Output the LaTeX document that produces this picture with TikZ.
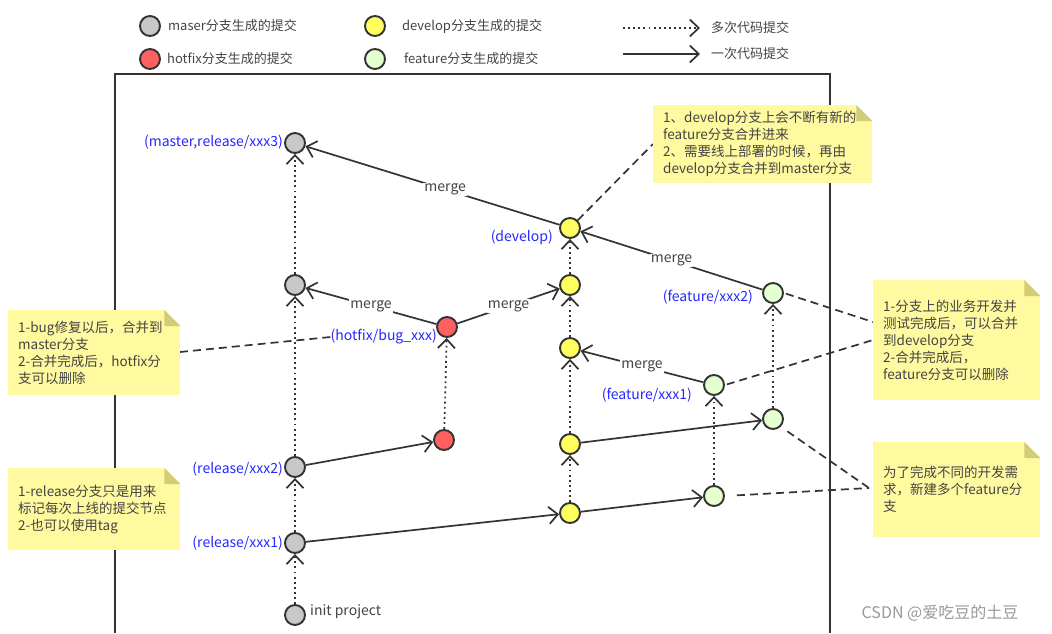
\documentclass[tikz,border=0pt]{standalone}
\usepackage{fontspec}
\setmainfont{Noto Sans CJK SC}
\usetikzlibrary{arrows.meta, calc, positioning}

\definecolor{masterGray}{RGB}{200,200,200}
\definecolor{hotfixRed}{RGB}{255,96,96}
\definecolor{developYellow}{RGB}{255,255,96}
\definecolor{featureGreen}{RGB}{228,255,208}
\definecolor{lineDark}{RGB}{51,51,51}
\definecolor{labelBlue}{RGB}{40,40,255}
\definecolor{noteYellow}{RGB}{255,250,160}
\definecolor{noteFold}{RGB}{208,204,120}
\definecolor{textGray}{RGB}{68,68,68}

\tikzset{
  commit/.style={circle, draw=lineDark, line width=1.9pt, minimum size=20pt, inner sep=0pt},
  mastercommit/.style={commit, fill=masterGray},
  hotfixcommit/.style={commit, fill=hotfixRed},
  developcommit/.style={commit, fill=developYellow},
  featurecommit/.style={commit, fill=featureGreen},
  once/.style={draw=lineDark, line width=1.7pt, -{Straight Barb[length=9pt,width=17pt]}},
  many/.style={once, dash pattern=on 1.9pt off 3.2pt},
  mergelbl/.style={fill=white, inner sep=1pt, text=textGray, font=\fontsize{14}{16}\selectfont},
  branchlbl/.style={text=labelBlue, inner sep=0pt, font=\fontsize{14}{16}\selectfont},
  legtext/.style={text=textGray, inner sep=0pt, anchor=west, font=\fontsize{13}{15}\selectfont},
  note/.style={rectangle, fill=noteYellow, inner xsep=10pt, inner ysep=0pt, align=left,
    anchor=north west, text=textGray, font=\fontsize{13.5}{17}\selectfont},
  notelink/.style={draw=lineDark, line width=1.7pt, dash pattern=on 8pt off 5pt},
}

%% folded corner of a note
\newcommand\notefold[1]{%
  \fill[white] ([xshift=-16pt]#1.north east) -- (#1.north east) -- ([yshift=-16pt]#1.north east) -- cycle;
  \fill[noteFold] ([xshift=-16pt]#1.north east) -- ([yshift=-16pt]#1.north east)
    -- ([xshift=-16pt,yshift=-16pt]#1.north east) -- cycle;}

\begin{document}
\begin{tikzpicture}[x=1pt, y=-1pt]

%%Paramaters
%% column of each branch, can be modified
\def\masterPos{295}
\def\hotfixPos{447}
\def\developPos{570}
\def\featAPos{714}
\def\featBPos{773}

\useasboundingbox (0,0) rectangle (1052,633);
\fill[white] (0,0) rectangle (1052,633);

    %% legend
    \node[mastercommit] (legMaster) at (150,26) {};
    \node[legtext, right=7pt of legMaster] (legMasterTxt) {maser分支生成的提交};
    \node[hotfixcommit] (legHotfix) at (150,59) {};
    \node[legtext, right=6pt of legHotfix] (legHotfixTxt) {hotfix分支生成的提交};
    \node[developcommit] (legDevelop) at (375,26) {};
    \node[legtext, right=16pt of legDevelop] (legDevelopTxt) {develop分支生成的提交};
    \node[featurecommit] (legFeature) at (375,59) {};
    \node[legtext, right=18pt of legFeature] (legFeatureTxt) {feature分支生成的提交};

    \coordinate (legManyA) at (623,28);
    \coordinate (legManyB) at (700,28);
    \draw[many] (legManyA) -- (legManyB);
    \node[legtext, right=11pt of legManyB] (legManyTxt) {多次代码提交};
    \coordinate (legOnceA) at (623,54);
    \coordinate (legOnceB) at (700,54);
    \draw[once] (legOnceA) -- (legOnceB);
    \node[legtext, right=11pt of legOnceB] (legOnceTxt) {一次代码提交};

    %% frame
    \draw[draw=lineDark, line width=1.9pt] (115,633) |- (830,74) -- (830,633);

    %% master
    \node[mastercommit] (m0) at (\masterPos, 615) {};
    \node[mastercommit] (m1) at (\masterPos, 543) {};
    \node[mastercommit] (m2) at (\masterPos, 467) {};
    \node[mastercommit] (m3) at (\masterPos, 285) {};
    \node[mastercommit] (m4) at (\masterPos, 143) {};

    %% hotfix
    \node[hotfixcommit] (h1) at (444, 440) {};
    \node[hotfixcommit] (h2) at (\hotfixPos, 327) {};

    %% develop
    \node[developcommit] (d1) at (\developPos, 513) {};
    \node[developcommit] (d2) at (\developPos, 444) {};
    \node[developcommit] (d3) at (\developPos, 348) {};
    \node[developcommit] (d4) at (\developPos, 285) {};
    \node[developcommit] (d5) at (\developPos, 228) {};

    %% features
    \node[featurecommit] (fa1) at (\featAPos, 496) {};
    \node[featurecommit] (fa2) at (\featAPos, 385) {};
    \node[featurecommit] (fb1) at (\featBPos, 419) {};
    \node[featurecommit] (fb2) at (\featBPos, 293) {};

    %% branch labels
    \node[branchlbl, anchor=east] (m4Lbl) at ($(m4.west) + (-1, -1)$) {(master,release/xxx3)};
    \node[branchlbl, anchor=east] (m2Lbl) at ($(m2.west) + (-1, 2)$) {(release/xxx2)};
    \node[branchlbl, anchor=east] (m1Lbl) at ($(m1.west) + (-1, 0)$) {(release/xxx1)};
    \node[text=textGray, inner sep=0pt, anchor=west, font=\fontsize{14}{16}\selectfont] (m0Lbl) at ($(m0.east) + (4, -3)$) {init project};
    \node[branchlbl, anchor=east] (h2Lbl) at ($(h2.west) + (1, 10)$) {(hotfix/bug\_xxx)};
    \node[branchlbl, anchor=east] (d5Lbl) at ($(d5.west) + (-6, 9)$) {(develop)};
    \node[branchlbl, anchor=east] (fa2Lbl) at ($(fa2.west) + (-11, 10)$) {(feature/xxx1)};
    \node[branchlbl, anchor=east] (fb2Lbl) at ($(fb2.west) + (-9, 4)$) {(feature/xxx2)};

    %% many commits
    \draw[many] (m0) -- (m1);
    \draw[many] (m1) -- (m2);
    \draw[many] (m2) -- (m3);
    \draw[many] (m3) -- (m4);
    \draw[many] (h1) -- (h2);
    \draw[many] (d1) -- (d2);
    \draw[many] (d2) -- (d3);
    \draw[many] (d3) -- (d4);
    \draw[many] (d4) -- (d5);
    \draw[many] (fa1) -- (fa2);
    \draw[many] (fb1) -- (fb2);

    %% branching
    \draw[once] (m1) -- (d1);
    \draw[once] (m2) -- (h1);
    \draw[once] (d1) -- (fa1);
    \draw[once] (d2) -- (fb1);

    %% merging
    \draw[once] (h2) -- node[mergelbl] (mergeHM) {merge} (m3);
    \draw[once] (h2) -- node[mergelbl] (mergeHD) {merge} (d4);
    \draw[once] (fa2) -- node[mergelbl] (mergeFA) {merge} (d3);
    \draw[once] (fb2) -- node[mergelbl] (mergeFB) {merge} (d5);
    \draw[once] (d5) -- node[mergelbl, pos=0.45] (mergeDM) {merge} (m4);

    %% notes
    \draw[notelink] (180,352) -- (h2Lbl.west);
    \draw[notelink] (d5.north east) -- (653,144);
    \draw[notelink, shorten <=2pt] (fb2.east) -- (873,322);
    \draw[notelink, shorten <=2pt] (fa2.east) -- (873,340);
    \draw[notelink, shorten <=8pt] (fb1.south east) -- (869,488);
    \draw[notelink, shorten <=12pt] (fa1.east) -- (869,488);

    \node[note, minimum width=172pt, minimum height=85pt, text width=152pt] (bugNote) at (8,310)
      {1-bug修复以后，合并到\\master分支\\2-合并完成后，hotfix分\\支可以删除};
    \notefold{bugNote}
    \node[note, minimum width=172pt, minimum height=82pt, text width=152pt] (releaseNote) at (8,468)
      {1-release分支只是用来\\标记每次上线的提交节点\\2-也可以使用tag};
    \notefold{releaseNote}
    \node[note, minimum width=219pt, minimum height=78pt, text width=199pt] (developNote) at (653,105)
      {1、develop分支上会不断有新的\\feature分支合并进来\\2、需要线上部署的时候，再由\\develop分支合并到master分支};
    \notefold{developNote}
    \node[note, minimum width=167pt, minimum height=120pt, text width=147pt] (featureNote) at (873,280)
      {1-分支上的业务开发并\\测试完成后，可以合并\\到develop分支\\2-合并完成后，\\feature分支可以删除};
    \notefold{featureNote}
    \node[note, minimum width=167pt, minimum height=95pt, text width=147pt] (newNote) at (873,442)
      {为了完成不同的开发需\\求，新建多个feature分\\支};
    \notefold{newNote}

    %% watermark
    \node[text=black!40, inner sep=0pt, font=\fontsize{16}{18}\selectfont] (csdnMark) at (940,613) {CSDN @爱吃豆的土豆};

\end{tikzpicture}
\end{document}
